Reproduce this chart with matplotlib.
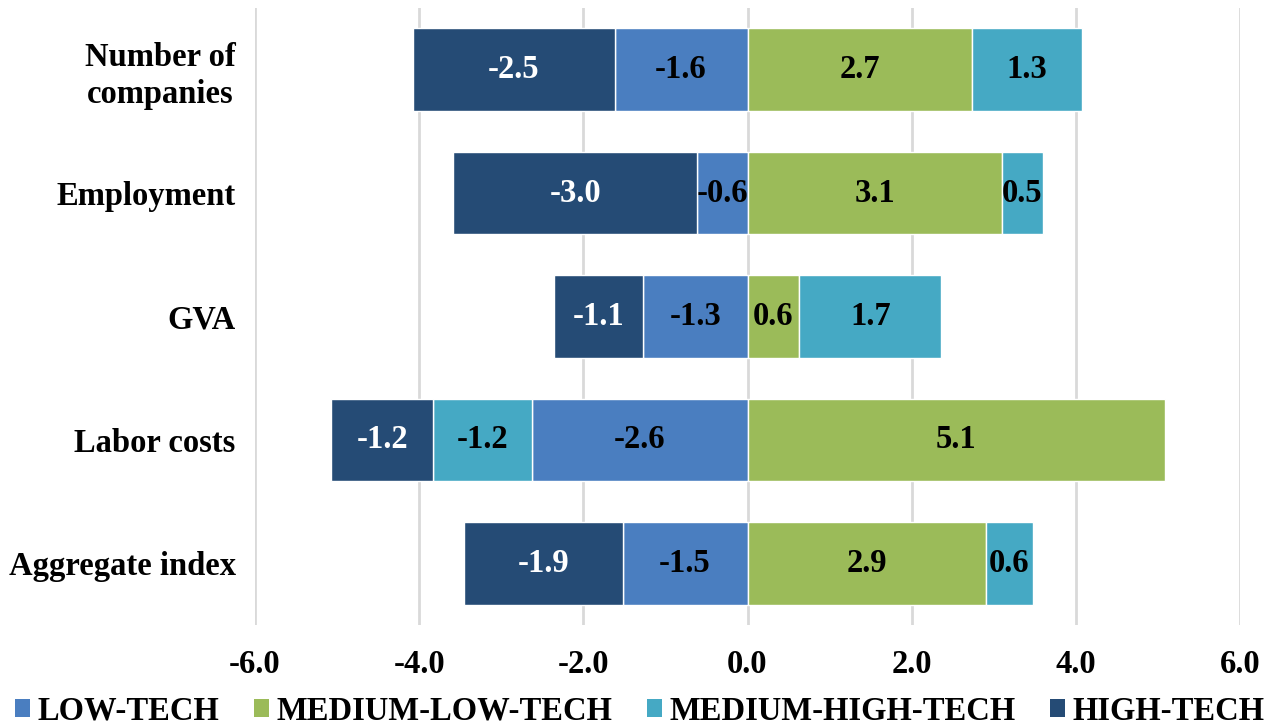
import matplotlib.pyplot as plt
import numpy as np
from matplotlib.patches import Patch

plt.rcParams['font.family'] = ['Liberation Serif', 'DejaVu Serif']
plt.rcParams['font.weight'] = 'bold'

categories = ['Number of\ncompanies', 'Employment', 'GVA', 'Labor costs', 'Aggregate index']
series = ['LOW-TECH', 'MEDIUM-LOW-TECH', 'MEDIUM-HIGH-TECH', 'HIGH-TECH']

low_tech = [-1.62, -0.61, -1.27, -2.62, -1.52]
medium_low_tech = [2.74, 3.10, 0.63, 5.09, 2.90]
medium_high_tech = [1.33, 0.50, 1.73, -1.21, 0.58]
high_tech = [-2.46, -2.98, -1.09, -1.24, -1.93]

colors = ['#4A7EC0', '#9BBB59', '#45A9C4', '#254B75']
text_colors = ['black', 'black', 'black', 'white']
xticks = [-6.0, -4.0, -2.0, 0.0, 2.0, 4.0, 6.0]

fig = plt.figure(figsize=(12.8, 7.28), dpi=100)
ax = fig.add_axes([255 / 1280, 1 - 625 / 728, 985 / 1280, 617 / 728])

y = np.arange(len(categories))
pos_left = np.zeros(len(categories))
neg_left = np.zeros(len(categories))
for name, vals, c, tc in zip(series, [low_tech, medium_low_tech, medium_high_tech, high_tech],
                             colors, text_colors):
    vals = np.array(vals)
    left = np.where(vals >= 0, pos_left, neg_left)
    bars = ax.barh(y, vals, left=left, height=0.67, color=c, edgecolor='white',
                   linewidth=1, label=name, zorder=3)
    ax.bar_label(bars, fmt='%.1f', label_type='center', color=tc,
                 fontsize=23.5, fontweight='bold')
    pos_left += np.where(vals >= 0, vals, 0)
    neg_left += np.where(vals < 0, vals, 0)

ax.set_xlim(-6, 6)
ax.set_ylim(len(categories) - 0.5, -0.5)
ax.set_xticks(xticks)
ax.set_xticklabels([f'{v:.1f}' for v in xticks], fontsize=23.5, fontweight='bold')
ax.set_yticks(y)
ax.set_yticklabels(categories, fontsize=23.5, fontweight='bold',
                   multialignment='center', linespacing=1.25)
ax.tick_params(axis='both', length=0)
ax.tick_params(axis='x', pad=17)
ax.tick_params(axis='y', pad=14)
ax.grid(axis='x', color='#D9D9D9', linewidth=2, zorder=0)
for s in ax.spines.values():
    s.set_visible(False)

handles = [Patch(facecolor=c) for c in colors]
fig.legend(handles, series, loc='center', bbox_to_anchor=(0.5, 1 - 711 / 728), ncol=4,
           frameon=False, fontsize=23.5, handlelength=0.45, handleheight=0.45,
           handletextpad=0.25, columnspacing=1.05, borderaxespad=0)

fig.savefig('out.png', dpi=100)
